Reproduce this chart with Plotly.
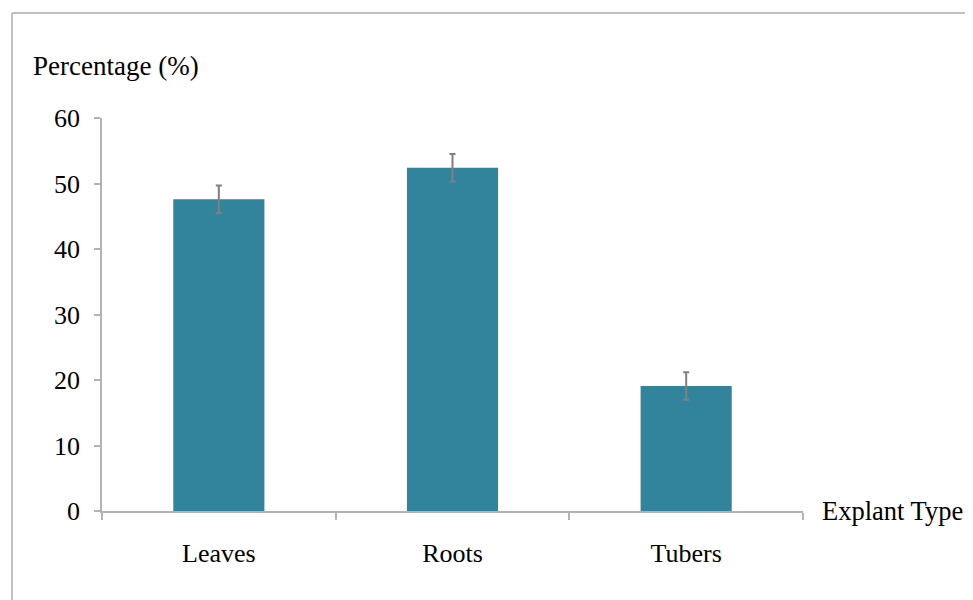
import plotly.graph_objects as go

categories = ["Leaves", "Roots", "Tubers"]
values = [47.6, 52.4, 19.1]
errors = [2.1, 2.1, 2.1]
y_ticks = [0, 10, 20, 30, 40, 50, 60]

fig = go.Figure()
fig.add_trace(go.Bar(
    x=categories, y=values,
    marker=dict(color="#31849B", line=dict(width=0)),
    width=0.39,
    error_y=dict(type="data", array=errors, visible=True, color="#808080", thickness=2, width=3),
))

font = "Liberation Serif, Times New Roman, serif"
# page offset of 8px (body margin) accounted for in margins
PL, PR, PT, PB = 102, 803, 118, 511
off = 8
W, H = 973, 600
fig.update_layout(
    width=W, height=H,
    margin=dict(l=PL - off, r=W - (PR - off), t=PT - off, b=H - (PB - off)),
    paper_bgcolor="white", plot_bgcolor="white",
    showlegend=False,
    font=dict(family=font, size=26, color="#000000"),
    xaxis=dict(
        type="category", range=[-0.5, 2.5],
        showline=True, linecolor="#B3B3B3", linewidth=1.5,
        ticks="outside", tickson="boundaries", ticklen=7, tickcolor="#B3B3B3", tickwidth=1.5,
        showgrid=False, ticklabelstandoff=18,
        tickfont=dict(family=font, size=26),
    ),
    yaxis=dict(
        range=[0, 60], tickvals=y_ticks,
        showline=True, linecolor="#B3B3B3", linewidth=1.5,
        ticks="outside", ticklen=6, tickcolor="#B3B3B3", tickwidth=1.5,
        showgrid=False, zeroline=False, ticklabelstandoff=9,
        tickfont=dict(family=font, size=26),
    ),
)

pw = PR - PL
ph = PB - PT
fig.add_annotation(text="Percentage (%)", xref="paper", yref="paper",
                   x=(31 - PL) / pw, y=(PB - 66) / ph,
                   xanchor="left", yanchor="middle", showarrow=False, font=dict(family=font, size=27))
fig.add_annotation(text="Explant Type", xref="paper", yref="paper",
                   x=(820 - PL) / pw, y=0.0,
                   xanchor="left", yanchor="middle", showarrow=False, font=dict(family=font, size=26.5))

# outer frame (top and left edges visible in the reference)
fx0 = (12 - PL) / pw
fy1 = (PB - 13) / ph
fy0 = (PB - 620) / ph
fx1 = (990 - PL) / pw
fig.add_shape(type="line", xref="paper", yref="paper", x0=fx0, x1=fx1, y0=fy1, y1=fy1,
              line=dict(color="#BFBFBF", width=2))
fig.add_shape(type="line", xref="paper", yref="paper", x0=fx0, x1=fx0, y0=fy0, y1=fy1,
              line=dict(color="#BFBFBF", width=2))

fig.write_html("out.html")
